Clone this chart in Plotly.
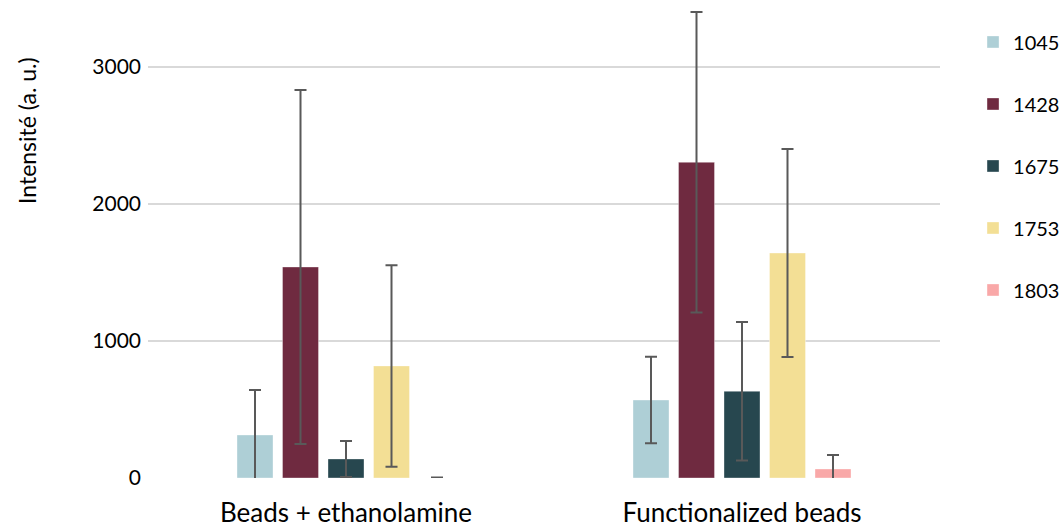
import plotly.graph_objects as go

categories = ["Beads + ethanolamine", "Functionalized beads"]
series_names = ["1045", "1428", "1675", "1753", "1803"]
values = {
    "1045": [314, 569],
    "1428": [1540, 2304],
    "1675": [139, 633],
    "1753": [818, 1642],
    "1803": [0, 66],
}
errors = {
    "1045": [328, 316],
    "1428": [1292, 1097],
    "1675": [131, 505],
    "1753": [735, 759],
    "1803": [3, 102],
}
colors = {
    "1045": "#AECFD6",
    "1428": "#6F2A40",
    "1675": "#27474F",
    "1753": "#F3DF95",
    "1803": "#F9A8A8",
}
y_ticks = [0, 1000, 2000, 3000]

FONT = "Lato, 'Open Sans', sans-serif"

fig = go.Figure()
for name in series_names:
    fig.add_trace(go.Bar(
        name=name,
        x=categories,
        y=values[name],
        marker=dict(color=colors[name], line=dict(color="rgba(255,255,255,0.35)", width=1)),
        error_y=dict(type="data", array=errors[name], symmetric=True,
                     color="#595959", thickness=2, width=6),
        legendgroup=name,
    ))

fig.update_layout(
    width=1062, height=530,
    margin=dict(l=148, r=122, t=2, b=52, autoexpand=False),
    paper_bgcolor="white", plot_bgcolor="white",
    barmode="group", bargap=0.4255, bargroupgap=0.209,
    font=dict(family=FONT, size=21, color="#000000"),
    showlegend=True,
    legend=dict(x=1.0417, xanchor="left", y=0.957, yanchor="top",
                yref="paper", traceorder="grouped", tracegroupgap=33,
                font=dict(size=20, family=FONT), itemwidth=30,
                bgcolor="rgba(0,0,0,0)"),
)
fig.update_yaxes(range=[0, 3474], tickvals=y_ticks, ticktext=[str(v) for v in y_ticks],
                 showgrid=True, gridcolor="#D9D9D9", gridwidth=1.5, zeroline=False,
                 showline=False, ticks="", ticklabelstandoff=6, automargin=False,
                 tickfont=dict(size=21, family=FONT))
fig.update_xaxes(showgrid=False, showline=False, ticks="", ticklabelstandoff=17, automargin=False,
                 tickfont=dict(size=26, family=FONT))

fig.add_annotation(text="Intensité (a. u.)", textangle=-90, xref="paper", yref="paper",
                   x=(27 - 148) / 792, y=(478 - 130) / 476, xanchor="center", yanchor="middle",
                   showarrow=False, font=dict(size=23, family=FONT))

fig.write_html("out.html", post_script="document.body.style.margin='0';",
               config={"displayModeBar": False})
